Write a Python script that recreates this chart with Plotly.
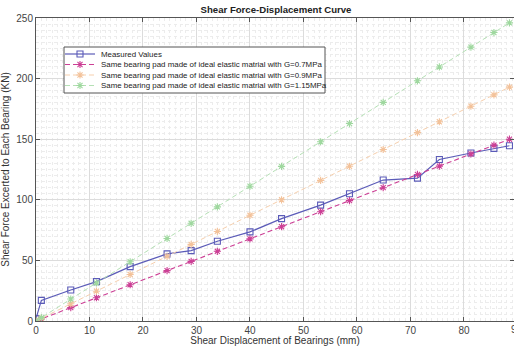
import plotly.graph_objects as go

# Data
displacement = [0, 1, 6.5, 11.3, 17.6, 24.5, 29.0, 33.9, 40.0, 45.9, 53.2, 58.6, 64.9, 71.3, 75.4, 81.3, 85.6, 88.5]
measured = [2, 17, 25.6, 32.5, 44.9, 55.4, 58.1, 65.8, 73.5, 84.5, 95.6, 105, 116.3, 117.9, 133.3, 138.6, 142.4, 144.6]
ideal_g07 = [0, 1.7, 11, 19.2, 29.9, 41.6, 49.2, 57.5, 67.8, 77.8, 90.2, 99.3, 110, 120.9, 127.8, 137.8, 145.1, 150]
ideal_g09 = [0, 2.2, 14.2, 24.6, 38.4, 53.4, 63.2, 73.9, 87.2, 100, 116, 127.7, 141.5, 155.4, 164.4, 177.2, 186.6, 193]
ideal_g115 = [0, 2.8, 18.1, 31.4, 48.9, 68.1, 80.6, 94.2, 111.2, 127.6, 147.9, 162.9, 180.4, 198.2, 209.6, 226, 238, 246]

names = [
    "Measured Values",
    "Same bearing pad made of ideal elastic matrial with G=0.7MPa",
    "Same bearing pad made of ideal elastic matrial with G=0.9MPa",
    "Same bearing pad made of ideal elastic matrial with G=1.15MPa",
]
x_ticks = [0, 10, 20, 30, 40, 50, 60, 70, 80, 90]
y_ticks = [0, 50, 100, 150, 200, 250]

FONT = "Liberation Sans, Arial"
styles = [
    dict(line=dict(color="#5b5bb8", width=1.2),
         marker=dict(symbol="square-open", size=6, color="#5b5bb8", line=dict(width=1.1, color="#5b5bb8"))),
    dict(line=dict(color="#cc3f95", width=1.1, dash="5px,3px"),
         marker=dict(symbol="asterisk-open", size=6, color="#cc3f95", line=dict(width=1.1, color="#cc3f95"))),
    dict(line=dict(color="#f6cfad", width=1.0, dash="5px,3px"),
         marker=dict(symbol="asterisk-open", size=6, color="#f3c29a", line=dict(width=1.1, color="#f3c29a"))),
    dict(line=dict(color="#b5e0b5", width=1.0, dash="5px,3px"),
         marker=dict(symbol="asterisk-open", size=6, color="#9fd89f", line=dict(width=1.1, color="#9fd89f"))),
]
series = [measured, ideal_g07, ideal_g09, ideal_g115]

fig = go.Figure()
for name, ys, st in zip(names, series, styles):
    fig.add_trace(go.Scatter(x=displacement, y=ys, name=name, mode="lines+markers",
                             showlegend=False, **st))

# Compact MATLAB-style legend drawn on a pixel-unit overlay frame
PLOT_W, PLOT_H = 478, 303
leg_x0, leg_x1, leg_y0, leg_y1 = 28, 289, 228, 274
row_y = [267, 256.5, 246, 235.5]
fig.add_trace(go.Scatter(
    x=[leg_x0, leg_x1, leg_x1, leg_x0, leg_x0], y=[leg_y0, leg_y0, leg_y1, leg_y1, leg_y0],
    mode="lines", fill="toself", fillcolor="white", line=dict(color="#555555", width=1),
    xaxis="x2", yaxis="y2", showlegend=False, hoverinfo="skip"))
for name, ry, st in zip(names, row_y, styles):
    fig.add_trace(go.Scatter(x=[29, 59], y=[ry, ry], mode="lines", line=st["line"],
                             xaxis="x2", yaxis="y2", showlegend=False, hoverinfo="skip"))
    fig.add_trace(go.Scatter(x=[44], y=[ry], mode="markers", marker=st["marker"],
                             xaxis="x2", yaxis="y2", showlegend=False, hoverinfo="skip"))
    fig.add_annotation(x=62.5, y=ry, xref="x2", yref="y2", text=name, showarrow=False,
                       xanchor="left", yanchor="middle",
                       font=dict(family=FONT, size=7.9, color="#222222"))

axis_common = dict(
    showline=True, linecolor="#555555", linewidth=1, mirror="ticks",
    ticks="inside", ticklen=4, tickcolor="#555555",
    showgrid=True, gridcolor="#dcdcdc", gridwidth=1,
    zeroline=False, automargin=False,
    tickfont=dict(family=FONT, size=10, color="#444444"),
)

# partially visible last tick label (axis extends past the cropped right edge)
fig.add_annotation(x=1.0056, y=0, xref="paper", yref="paper", text=str(x_ticks[-1]),
                   showarrow=False, xanchor="center", yanchor="top", yshift=-1,
                   font=dict(family=FONT, size=10, color="#444444"))

fig.update_layout(
    width=514, height=346,
    margin=dict(l=36, r=0, t=18, b=25),
    paper_bgcolor="white", plot_bgcolor="white",
    title=dict(text="<b>Shear Force-Displacement Curve</b>", x=0.537, xanchor="center",
               y=0.972, yanchor="middle",
               font=dict(family=FONT, size=9.6, color="#222222")),
    xaxis=dict(**axis_common, range=[0, 89.35], tickvals=x_ticks,
               minor=dict(dtick=1, showgrid=True, gridcolor="#ececec", griddash="dot", ticks=""),
               title=dict(text="Shear Displacement of Bearings (mm)", standoff=7,
                          font=dict(family=FONT, size=10, color="#333333"))),
    yaxis=dict(**axis_common, range=[0, 250], tickvals=y_ticks,
               minor=dict(dtick=5, showgrid=True, gridcolor="#ececec", griddash="dot", ticks=""),
               title=dict(text="Shear Force Excerted to Each Bearing (KN)", standoff=5,
                          font=dict(family=FONT, size=10, color="#333333"))),
    xaxis2=dict(overlaying="x", anchor="y2", range=[0, PLOT_W], showgrid=False, zeroline=False,
                showticklabels=False, ticks="", showline=False, fixedrange=True, automargin=False),
    yaxis2=dict(overlaying="y", anchor="x2", range=[0, PLOT_H], showgrid=False, zeroline=False,
                showticklabels=False, ticks="", showline=False, fixedrange=True, automargin=False),
    showlegend=False,
)

fig.write_html("out.html")
